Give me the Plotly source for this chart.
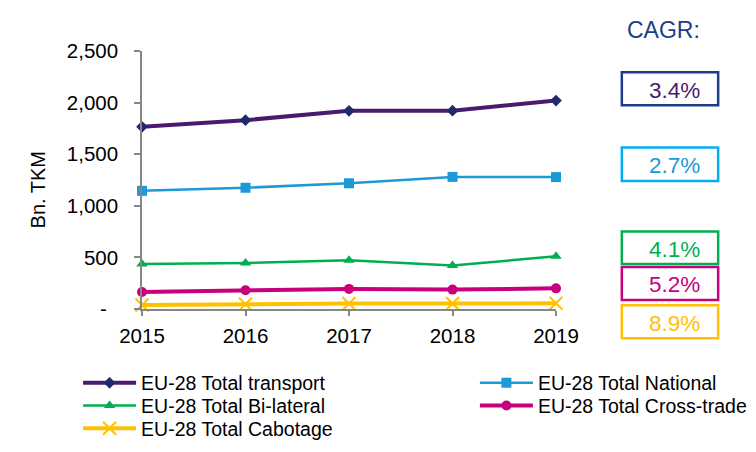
import plotly.graph_objects as go

# ---------------- data ----------------
years = [2015, 2016, 2017, 2018, 2019]
names = ["EU-28 Total transport", "EU-28 Total National", "EU-28 Total Bi-lateral",
         "EU-28 Total Cross-trade", "EU-28 Total Cabotage"]
transport = [1765, 1830, 1920, 1922, 2020]
national = [1145, 1175, 1218, 1280, 1278]
bilateral = [437, 445, 472, 422, 510]
crosstrade = [165, 182, 195, 188, 200]
cabotage = [39, 47, 54, 53, 55]
cagr_labels = ["3.4%", "2.7%", "4.1%", "5.2%", "8.9%"]
y_tickvals = [0, 500, 1000, 1500, 2000, 2500]
y_ticktext = ["-\u00a0\u00a0", "500", "1,000", "1,500", "2,000", "2,500"]

# ---------------- geometry helpers ----------------
W, H = 756, 452
L, R, T, B = 134, 188, 42.5, 136.5
PW, PH = W - L - R, H - T - B


def px(x):
    return (x - L) / PW


def py(y):
    return (H - B - y) / PH


FONT = "Liberation Sans, Arial, sans-serif"

series = [
    dict(y=transport, line=dict(color="#4B1A6E", width=4),
         marker=dict(symbol="diamond", size=9, color="#1F2A6E")),
    dict(y=national, line=dict(color="#1C9AD6", width=2.5),
         marker=dict(symbol="square", size=10, color="#1C9AD6")),
    dict(y=bilateral, line=dict(color="#00B050", width=2.5),
         marker=dict(symbol="triangle-up", size=10, color="#00B050")),
    dict(y=crosstrade, line=dict(color="#C8007E", width=4),
         marker=dict(symbol="circle", size=10, color="#C8007E")),
    dict(y=cabotage, line=dict(color="#FFC000", width=4),
         marker=dict(symbol="x-thin", size=13, color="#FFC000",
                     line=dict(color="#FFC000", width=2))),
]

legend_keys = ["legend", "legend2", "legend3", "legend4", "legend5"]
# legend placement (px): left edge, row centre
legend_pos = [(67, 394), (483, 394), (67, 418), (483, 418), (67, 442)]

fig = go.Figure()
for i, s in enumerate(series):
    fig.add_trace(go.Scatter(
        x=years, y=s["y"], name=names[i], mode="lines+markers",
        line=s["line"], marker=s["marker"], cliponaxis=False,
        legend=legend_keys[i],
    ))

layout_legends = {}
for key, (lx, ly) in zip(legend_keys, legend_pos):
    layout_legends[key] = dict(
        x=px(lx), y=py(ly), xanchor="left", yanchor="middle",
        xref="paper", yref="paper", itemwidth=53,
        font=dict(family=FONT, size=19.5, color="#000000"),
        bgcolor="rgba(0,0,0,0)", borderwidth=0,
    )

fig.update_layout(
    width=W, height=H,
    margin=dict(l=L, r=R, t=T, b=B, pad=0),
    paper_bgcolor="white", plot_bgcolor="white",
    font=dict(family=FONT, color="#000000"),
    showlegend=True,
    **layout_legends,
)

fig.update_xaxes(
    range=[2015, 2019], tickvals=years, ticktext=[str(y) for y in years],
    showgrid=False, zeroline=False, showline=True, linecolor="#868686", linewidth=1.5,
    ticks="outside", ticklen=5, tickcolor="#868686", tickwidth=1.5,
    tickfont=dict(family=FONT, size=20.5, color="#000000"),
    ticklabelstandoff=3,
    fixedrange=True,
)
fig.update_yaxes(
    range=[0, 2500], tickvals=y_tickvals, ticktext=y_ticktext,
    showgrid=False, zeroline=False, showline=True, linecolor="#868686", linewidth=1.5,
    ticks="outside", ticklen=6, tickcolor="#868686", tickwidth=1.5,
    tickfont=dict(family=FONT, size=20.5, color="#000000"),
    ticklabelstandoff=12,
    fixedrange=True,
)

# y-axis title
fig.add_annotation(
    x=px(25), y=py(190), xref="paper", yref="paper", text="Bn. TKM", showarrow=False,
    textangle=-90, xanchor="center", yanchor="middle",
    font=dict(family=FONT, size=20, color="#000000"),
)

# CAGR header
fig.add_annotation(
    x=px(681), y=py(20), xref="paper", yref="paper", text="CAGR:", showarrow=False,
    font=dict(family=FONT, size=23, color="#1F3C88"), xanchor="center", yanchor="middle",
)

box_rows = [(65, 100), (144.5, 180), (233.5, 268), (271, 306), (311.5, 346.5)]
box_border = ["#1F3C88", "#00B0F0", "#00B050", "#C8007E", "#FFC000"]
box_text = ["#4B1A6E", "#1C9AD6", "#00B050", "#C8007E", "#FFC000"]
for (y0, y1), bc, tc, lab in zip(box_rows, box_border, box_text, cagr_labels):
    fig.add_shape(type="rect", xref="paper", yref="paper",
                  x0=px(637), x1=px(738), y0=py(y1), y1=py(y0),
                  line=dict(color=bc, width=2.5), fillcolor="rgba(0,0,0,0)")
    fig.add_annotation(
        x=px(721), y=py((y0 + y1) / 2 + 1.5), xref="paper", yref="paper", text=lab,
        showarrow=False, xanchor="right", yanchor="middle",
        font=dict(family=FONT, size=22.5, color=tc),
    )

fig.write_html("out.html")
